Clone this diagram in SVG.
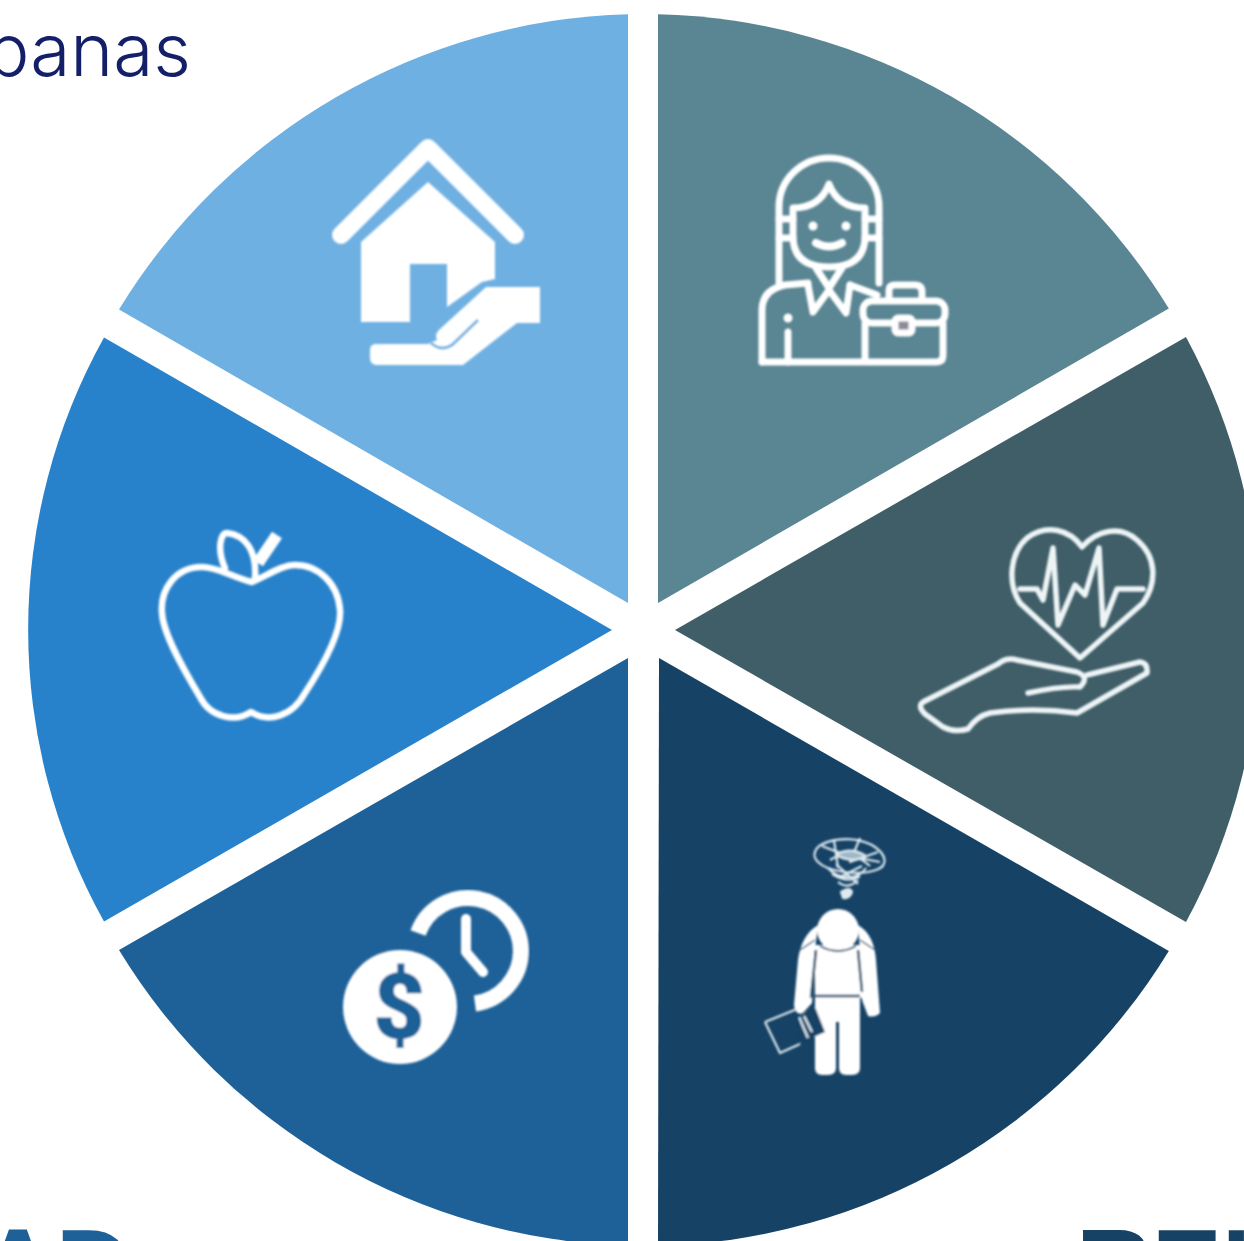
<svg xmlns="http://www.w3.org/2000/svg" width="1244" height="1241" viewBox="0 0 1244 1241">
<defs><filter id="soft" x="-5%" y="-5%" width="110%" height="110%"><feGaussianBlur stdDeviation="0.8"/></filter></defs>
<style>
.ln{fill:none;stroke:#fff;stroke-linejoin:round;stroke-linecap:round}
.fl{fill:#fff}
.ic{filter:url(#soft)}
.head{font-family:"Liberation Sans",Arial,sans-serif;font-weight:700;font-size:105px}
</style>
<rect width="1244" height="1241" fill="#fff"/>
<text x="191" y="76" text-anchor="end" font-family="Inter,'Liberation Sans',sans-serif" font-weight="300" font-size="73" fill="#141f69">panas</text>
<text class="head" x="-20" y="1303" fill="#1e6198">AD</text>
<text class="head" x="1076" y="1303" fill="#154265">REI</text>

<g id="node-housing">
<path d="M628 603V14.200A616 616 0 0 0 119 309.500Z" fill="#6fb0e2"/>
<g class="ic">
<polyline class="ln" points="341,235 428,148 515,235" stroke-width="18"/>
<path class="fl" d="M361 322V242L428 182L495 242V279L482 282L447 307V264H410V322Z"/>
<path class="fl" d="M486 287H540V323H517L463 365H377Q370 365 370 358V350Q370 344 376 344H428L437 340Q434 334 440 329Z"/>
<path d="M431 343Q441 352 452 345L478 320" fill="none" stroke="#6fb0e2" stroke-width="3"/>
</g>
</g>

<g id="node-employment">
<path d="M658 603V14.200A616 616 0 0 1 1168.800 308.500Z" fill="#5a8593"/>
<g class="ic">
<g class="ln" stroke-width="7">
<path d="M779 283V207A50 49 0 0 1 879 207V283"/>
<path d="M793 208Q820 208 829 184Q838 208 865 208V236Q865 267 829 267Q793 267 793 236Z"/>
<path d="M779 219H793M779 238H793M865 219H879M865 238H879"/>
<path d="M816 243Q829 250 842 243" stroke-width="8"/>
<path d="M816 268L829 288L842 268"/>
<path d="M808 285L813 312L829 290L846 313L850 285"/>
<path d="M762 362V310Q762 290 785 285L808 283M850 285L877 295"/>
<path d="M762 362H936Q943 362 943 355V323M865 323V362"/>
<path d="M788 332V362"/>
<rect x="863" y="301" width="82" height="22" rx="9"/>
<path d="M889 300V290Q889 285 895 285H915Q922 285 922 292V300"/>
<rect x="895" y="318" width="17" height="15" rx="3" fill="#8f8a96"/>
</g>
<circle class="fl" cx="788" cy="318" r="4.500"/>
<circle class="fl" cx="813" cy="226" r="4.500"/>
<circle class="fl" cx="846" cy="226" r="4.500"/>
</g>
</g>

<g id="node-health">
<path d="M675 630L1186 337A616 616 0 0 1 1186 922Z" fill="#3f5e68"/>
<g class="ic">
<g class="ln" style="stroke:#eef4f6" stroke-width="5.500">
<path d="M1080 658L1020 603C1007 583 1010 553 1027 538C1047 523 1070 530 1082 547C1097 530 1120 525 1137 540C1157 557 1157 583 1143 603Z"/>
<polyline points="1020,589 1037,589 1043,600 1053,548 1058,625 1075,585 1085,595 1099,548 1103,625 1117,589 1143,589"/>
<path d="M925 701L998 664Q1007 657 1017 660L1077 672Q1090 677 1080 687Q1060 686 1028 693"/>
<path d="M1087 675L1140 662Q1148 663 1147 673L1077 713Q1033 707 990 713Q977 716 968 729Q955 733 943 727L925 714Q916 705 925 701"/>
</g>
</g>
</g>

<g id="node-stress">
<path d="M659 658L1168.800 950.900A616 616 0 0 1 658 1245.800Z" fill="#154265"/>
<g class="ic">
<circle class="fl" cx="838" cy="930" r="21"/>
<path class="fl" d="M815 945H862V998H815Z"/>
<path class="fl" d="M815 998H860V1068Q860 1075 852 1075H846Q839 1075 839 1068V1022H836V1068Q836 1075 828 1075H822Q815 1075 815 1068Z"/>
<path class="fl" d="M818 925C806 932 800 945 798 960L794 1005Q795 1016 803 1013L812 1003L815 950Z"/>
<path class="fl" d="M858 925C870 932 875 945 876 960L880 1013Q875 1018 868 1016L862 1000L860 950Z"/>
<g fill="none" stroke="#154265">
<path d="M815 996H860" stroke-width="2.500"/>
<path d="M816 950L811 998M858 950L862 992" stroke-width="2.500"/>
<path d="M820 946Q838 956 856 946" stroke-width="2"/>
<path d="M800 950L815 940M875 950L860 940" stroke-width="1.500"/>
</g>
<path d="M798 1018L815 1007L825 1032L800 1043Z" fill="#154265"/>
<g fill="none" stroke="#dfeaf0" stroke-width="2.200" stroke-linejoin="round">
<path d="M765 1022L797 1009M765 1022L780 1053L800 1044"/>
<path d="M799 1017L808 1038M804 1016L812 1032"/>
<path d="M815 852C818 840 850 834 872 845C888 855 888 866 876 870C858 876 828 872 818 862Q813 857 815 852Z"/>
<path d="M834 840L838 868M860 838L850 862L878 852M822 846Q845 856 880 862M830 860Q850 848 870 866"/>
<path d="M828 868C838 880 858 880 866 868M832 874Q848 884 860 876M838 882Q848 890 858 880M836 864L858 884M862 866L838 878"/>
<path d="M841 892Q850 886 852 892Q850 899 843 898Z" fill="#dfeaf0"/>
<path d="M836 855Q850 846 866 856Q852 864 836 855Z" fill="#9db8c8"/>
</g>
</g>
</g>

<g id="node-income">
<path d="M628 658L119 950A616 616 0 0 0 628 1245.800Z" fill="#1e6198"/>
<g class="ic">
<circle class="fl" cx="400" cy="1007" r="57"/>
<text x="399" y="1038" text-anchor="middle" font-family="Roboto,'Liberation Sans',sans-serif" font-weight="900" font-size="90" fill="#1e6198">$</text>
<path d="M418 933A53 53 0 1 1 475 1003.500" fill="none" stroke="#fff" stroke-width="16"/>
<polyline class="ln" points="466,919 466,952 483,972" stroke-width="10"/>
</g>
</g>

<g id="node-food">
<path d="M612 630L104 337.500A600 600 0 0 0 104 921.500Z" fill="#2882cb"/>
<g class="ic">
<g class="ln" stroke-width="6.500">
<path d="M252 582C232 577 218 567 202 567C175 567 160 590 162 613C163 633 182 667 200 697C210 717 235 723 251 712C268 723 292 717 305 693C322 667 342 633 340 610C338 583 318 565 295 565C282 565 268 575 252 582Z"/>
<path d="M225 568C217 550 220 533 227 533C245 535 257 550 255 578"/>
</g>
<path d="M258 563L277 535" fill="none" stroke="#fff" stroke-width="12"/>
</g>
</g>
</svg>
